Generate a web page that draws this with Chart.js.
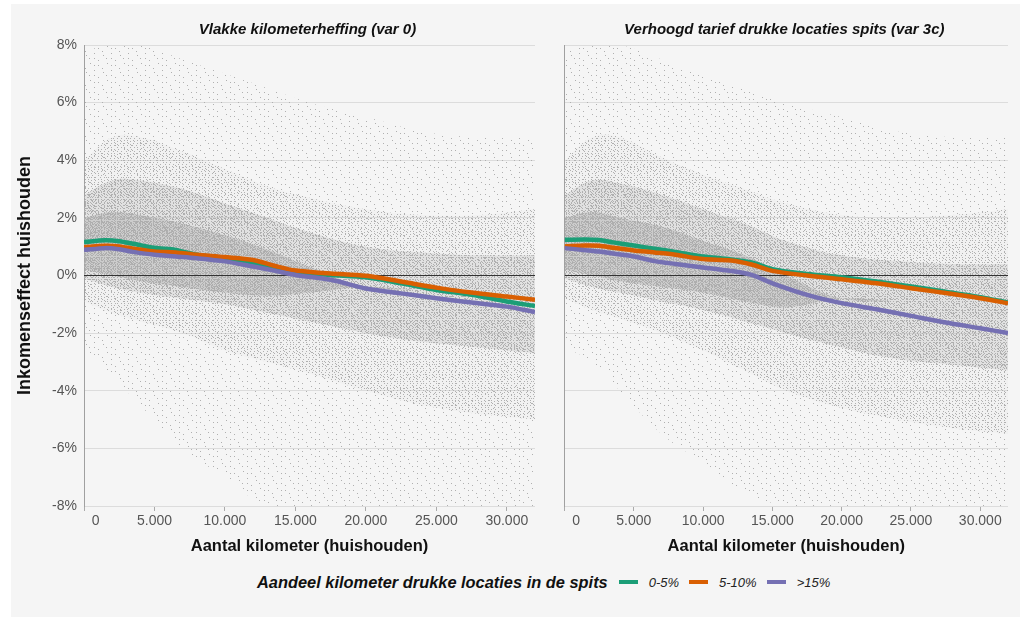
<!DOCTYPE html>
<html>
<head>
<meta charset="utf-8">
<script src="https://cdn.jsdelivr.net/npm/chart.js@4.4.1/dist/chart.umd.min.js"></script>
<style>
  body{margin:0;background:#fff;font-family:"Liberation Sans",Arial,sans-serif;}
  #frame{position:absolute;left:11px;top:4px;width:1009px;height:613px;background:#f5f5f5;}
  .box{position:absolute;top:4px;height:561px;}
  #box1{left:11px;width:536px;}
  #box2{left:547px;width:473px;}
  #legend{position:absolute;top:571px;left:257px;height:22px;display:flex;align-items:center;white-space:nowrap;}
  #legend .lt{font-weight:bold;font-style:italic;font-size:16.4px;color:#111;margin-right:11px;}
  #legend .sw{display:inline-block;width:19px;height:4px;margin-right:11px;}
  #legend .li{font-style:italic;font-size:13px;color:#222;margin-right:10px;}
</style>
</head>
<body>
<div id="frame"></div>
<div class="box" id="box1"><canvas id="chart1"></canvas></div>
<div class="box" id="box2"><canvas id="chart2"></canvas></div>
<div id="legend"></div>

<script>
// ---------------- DATA ----------------
const panelTitles = ["Vlakke kilometerheffing (var 0)", "Verhoogd tarief drukke locaties spits (var 3c)"];
const seriesLabels = ["0-5%", "5-10%", ">15%"];
const seriesColors = ["#1b9e77", "#d95f02", "#7570b3"];
const legendTitle = "Aandeel kilometer drukke locaties in de spits";

const yTicks = [-8, -6, -4, -2, 0, 2, 4, 6, 8];
const xTicks = [0, 5000, 10000, 15000, 20000, 25000, 30000];

// smoothed lines (km -> income effect in %)
const kmLine = [0, 1500, 2500, 3500, 5000, 6500, 8000, 10000, 12000, 13500, 15000, 17500, 20000, 22500, 25000, 27500, 30000, 32000];

const var0Green  = [1.16, 1.22, 1.19, 1.10, 0.96, 0.89, 0.72, 0.60, 0.45, 0.25, 0.12, 0.02, -0.06, -0.27, -0.50, -0.67, -0.90, -1.06];
const var0Orange = [0.98, 1.03, 1.01, 0.93, 0.83, 0.80, 0.72, 0.64, 0.54, 0.34, 0.17, 0.07, -0.01, -0.21, -0.42, -0.59, -0.73, -0.84];
const var0Purple = [0.89, 0.95, 0.91, 0.82, 0.72, 0.66, 0.60, 0.49, 0.31, 0.17, 0.02, -0.15, -0.45, -0.62, -0.79, -0.94, -1.08, -1.27];

const var3cGreen  = [1.24, 1.25, 1.23, 1.15, 1.04, 0.93, 0.82, 0.66, 0.56, 0.45, 0.22, 0.05, -0.06, -0.21, -0.38, -0.56, -0.75, -0.94];
const var3cOrange = [1.01, 1.04, 1.03, 0.96, 0.87, 0.80, 0.72, 0.57, 0.52, 0.38, 0.16, 0.00, -0.13, -0.27, -0.44, -0.61, -0.79, -0.96];
const var3cPurple = [0.95, 0.88, 0.83, 0.76, 0.66, 0.50, 0.40, 0.28, 0.16, 0.02, -0.27, -0.67, -0.96, -1.17, -1.40, -1.63, -1.83, -2.00];

// household cloud, read as density envelopes (upper / lower edge per km)
const kmBand = [0, 2000, 4000, 7000, 10000, 13000, 16000, 20000, 24000, 28000, 32000];

const var0OuterTop = [7.8, 8.0, 8.0, 7.5, 7.0, 6.5, 6.0, 5.5, 5.0, 4.8, 4.8];
const var0OuterBot = [-2.5, -3.5, -4.5, -6.0, -7.0, -8.0, -8.0, -8.0, -8.0, -8.0, -8.0];
const var0MidTop   = [4.0, 4.8, 4.8, 4.3, 3.7, 3.1, 2.7, 2.3, 2.1, 2.1, 2.3];
const var0MidBot   = [-0.9, -1.3, -1.6, -2.0, -2.6, -3.0, -3.4, -4.0, -4.5, -4.8, -5.0];
const var0CoreTop  = [2.8, 3.3, 3.3, 3.0, 2.5, 2.0, 1.5, 1.0, 0.8, 0.7, 0.7];
const var0CoreBot  = [-0.1, -0.4, -0.6, -0.8, -1.0, -1.3, -1.6, -2.0, -2.3, -2.5, -2.7];
const var0DenseTop = [2.0, 2.2, 2.1, 1.8, 1.4, 0.9, 0.3, -0.4, -0.5, -0.6, -0.7];
const var0DenseBot = [0.2, 0.0, -0.2, -0.4, -0.6, -0.7, -0.6, -0.4, -0.5, -0.6, -0.7];

const var3cOuterTop = [7.8, 8.0, 8.0, 7.5, 7.0, 6.5, 6.0, 5.5, 5.0, 4.8, 4.8];
const var3cOuterBot = [-2.5, -3.0, -4.0, -5.5, -6.5, -7.5, -8.0, -8.0, -8.0, -8.0, -8.0];
const var3cMidTop   = [4.0, 4.8, 4.8, 4.1, 3.5, 3.0, 2.5, 2.1, 2.0, 2.1, 2.3];
const var3cMidBot   = [-0.8, -1.2, -1.5, -2.0, -2.6, -3.3, -4.0, -4.6, -5.0, -5.3, -5.5];
const var3cCoreTop  = [2.8, 3.3, 3.2, 2.8, 2.3, 1.8, 1.2, 0.7, 0.5, 0.4, 0.4];
const var3cCoreBot  = [-0.1, -0.4, -0.6, -0.9, -1.2, -1.6, -2.0, -2.5, -2.9, -3.1, -3.3];
const var3cDenseTop = [2.0, 2.2, 2.0, 1.7, 1.2, 0.7, 0.0, -0.8, -0.9, -1.0, -1.1];
const var3cDenseBot = [0.2, 0.0, -0.2, -0.4, -0.6, -0.9, -1.1, -0.8, -0.9, -1.0, -1.1];

// ---------------- STYLE ----------------
const FONT = "'Liberation Sans', Arial, sans-serif";
const DOT = "#b0b0b0";

// speckle texture for the household cloud: light wash + evenly spread dots (R2 sequence)
function dotPattern(size, count, shift, wash){
  const c = document.createElement("canvas");
  c.width = size; c.height = size;
  const g = c.getContext("2d");
  if(wash){
    g.fillStyle = "rgba(168,168,168," + wash + ")";
    g.fillRect(0, 0, size, size);
  }
  g.fillStyle = DOT;
  for(let i = 1; i <= count; i++){
    const px = Math.floor(((shift + i * 0.7548776662) % 1) * size);
    const py = Math.floor(((shift * 0.5 + i * 0.5698402910) % 1) * size);
    g.fillRect(px, py, 1, 1);
  }
  return g.createPattern(c, "repeat");
}
const outerFill = dotPattern(17, 9, 0.13, 0);
const midFill   = dotPattern(13, 22, 0.41, 0.05);
const coreFill  = dotPattern(11, 24, 0.67, 0.22);
const denseFill = dotPattern(9, 22, 0.29, 0.38);

function pts(xs, ys){
  return xs.map((x,i) => ({x:x, y:ys[i]}));
}

function lineSet(i, values){
  return {
    label: seriesLabels[i],
    data: pts(kmLine, values),
    borderColor: seriesColors[i],
    borderWidth: 4.5,
    pointRadius: 0,
    tension: 0.3,
    fill: false,
    order: 2 - i            // >15% drawn on top
  };
}

// 0% reference line, above the cloud and below the series
function zeroSet(){
  return {data: pts([0, 32000], [0, 0]), borderColor: "#333", borderWidth: 1,
          pointRadius: 0, fill: false, order: 5};
}

function bandSets(top, bot, pattern, order){
  return [
    {data: pts(kmBand, top), borderWidth: 0, borderColor: "rgba(0,0,0,0)", pointRadius: 0,
     tension: 0.4, fill: "+1", backgroundColor: pattern, order: order},
    {data: pts(kmBand, bot), borderWidth: 0, borderColor: "rgba(0,0,0,0)", pointRadius: 0,
     tension: 0.4, fill: false, order: order}
  ];
}

// panel title centred over the plot area
const panelTitle = {
  id: "panelTitle",
  afterDraw(chart, args, opts){
    const {ctx, chartArea} = chart;
    ctx.save();
    ctx.font = "italic bold 15px " + FONT;
    ctx.fillStyle = "#111";
    ctx.textAlign = "center";
    ctx.textBaseline = "middle";
    ctx.fillText(opts.text, (chartArea.left + chartArea.right) / 2 - 2, 26);
    ctx.restore();
  }
};

function fmtKm(v){
  if(v === 0) return "      0";
  return String(v).replace(/\B(?=(\d{3})+(?!\d))/g, ".");
}

function makeChart(id, title, lines, bands, showY){
  const datasets = [];
  lines.forEach((vals, i) => datasets.push(lineSet(i, vals)));
  datasets.push(zeroSet());
  datasets.push(...bandSets(bands[0], bands[1], outerFill, 13));
  datasets.push(...bandSets(bands[2], bands[3], midFill, 12));
  datasets.push(...bandSets(bands[4], bands[5], coreFill, 11));
  datasets.push(...bandSets(bands[6], bands[7], denseFill, 10));

  return new Chart(document.getElementById(id), {
    type: "line",
    data: {datasets: datasets},
    plugins: [panelTitle],
    options: {
      responsive: true,
      maintainAspectRatio: false,
      animation: false,
      events: [],
      layout: {padding: {top: 41, right: 12, left: 0, bottom: 0}},
      plugins: {
        legend: {display: false},
        tooltip: {enabled: false},
        panelTitle: {text: title}
      },
      scales: {
        x: {
          type: "linear",
          min: 0, max: 32000,
          afterBuildTicks: s => { s.ticks = xTicks.map(v => ({value: v})); },
          afterFit: s => { s.height = 59; },
          ticks: {callback: v => fmtKm(v), color: "#555", font: {family: FONT, size: 14},
                  padding: 2, maxRotation: 0, autoSkip: false},
          grid: {display: true, drawOnChartArea: false, drawTicks: true, tickLength: 5, tickColor: "#aaa"},
          border: {display: false},
          title: {display: true, text: "Aantal kilometer (huishouden)", color: "#111",
                  font: {family: FONT, size: 16.5, weight: "bold"}, padding: {top: 0, bottom: 9}}
        },
        y: {
          type: "linear",
          min: -8, max: 8,
          afterBuildTicks: s => { s.ticks = yTicks.map(v => ({value: v})); },
          afterFit: s => { s.width = showY ? 73 : 11; },
          ticks: {display: showY, callback: v => v + "%", color: "#555",
                  font: {family: FONT, size: 14}, padding: 7},
          grid: {drawTicks: false, lineWidth: 1,
                 color: c => c.tick && c.tick.value === 0 ? "#333" : "#dcdcdc"},
          border: {display: true, color: "#a0a0a0"},
          title: {display: showY, text: "Inkomenseffect huishouden", color: "#111",
                  font: {family: FONT, size: 18, weight: "bold"}, padding: {top: 3, bottom: 0}}
        }
      }
    }
  });
}

// ---------------- LEGEND ----------------
function buildLegend(){
  const box = document.getElementById("legend");
  box.innerHTML = `<span class="lt">${legendTitle}</span>`;
  seriesLabels.forEach((lab, i) => {
    box.innerHTML += `<span class="sw" style="background:${seriesColors[i]}"></span><span class="li">${lab.replace(">", "&gt;")}</span>`;
  });
}

window.onload = () => {
  makeChart("chart1", panelTitles[0], [var0Green, var0Orange, var0Purple],
    [var0OuterTop, var0OuterBot, var0MidTop, var0MidBot, var0CoreTop, var0CoreBot, var0DenseTop, var0DenseBot], true);
  makeChart("chart2", panelTitles[1], [var3cGreen, var3cOrange, var3cPurple],
    [var3cOuterTop, var3cOuterBot, var3cMidTop, var3cMidBot, var3cCoreTop, var3cCoreBot, var3cDenseTop, var3cDenseBot], false);
  buildLegend();
};
</script>
</body>
</html>
